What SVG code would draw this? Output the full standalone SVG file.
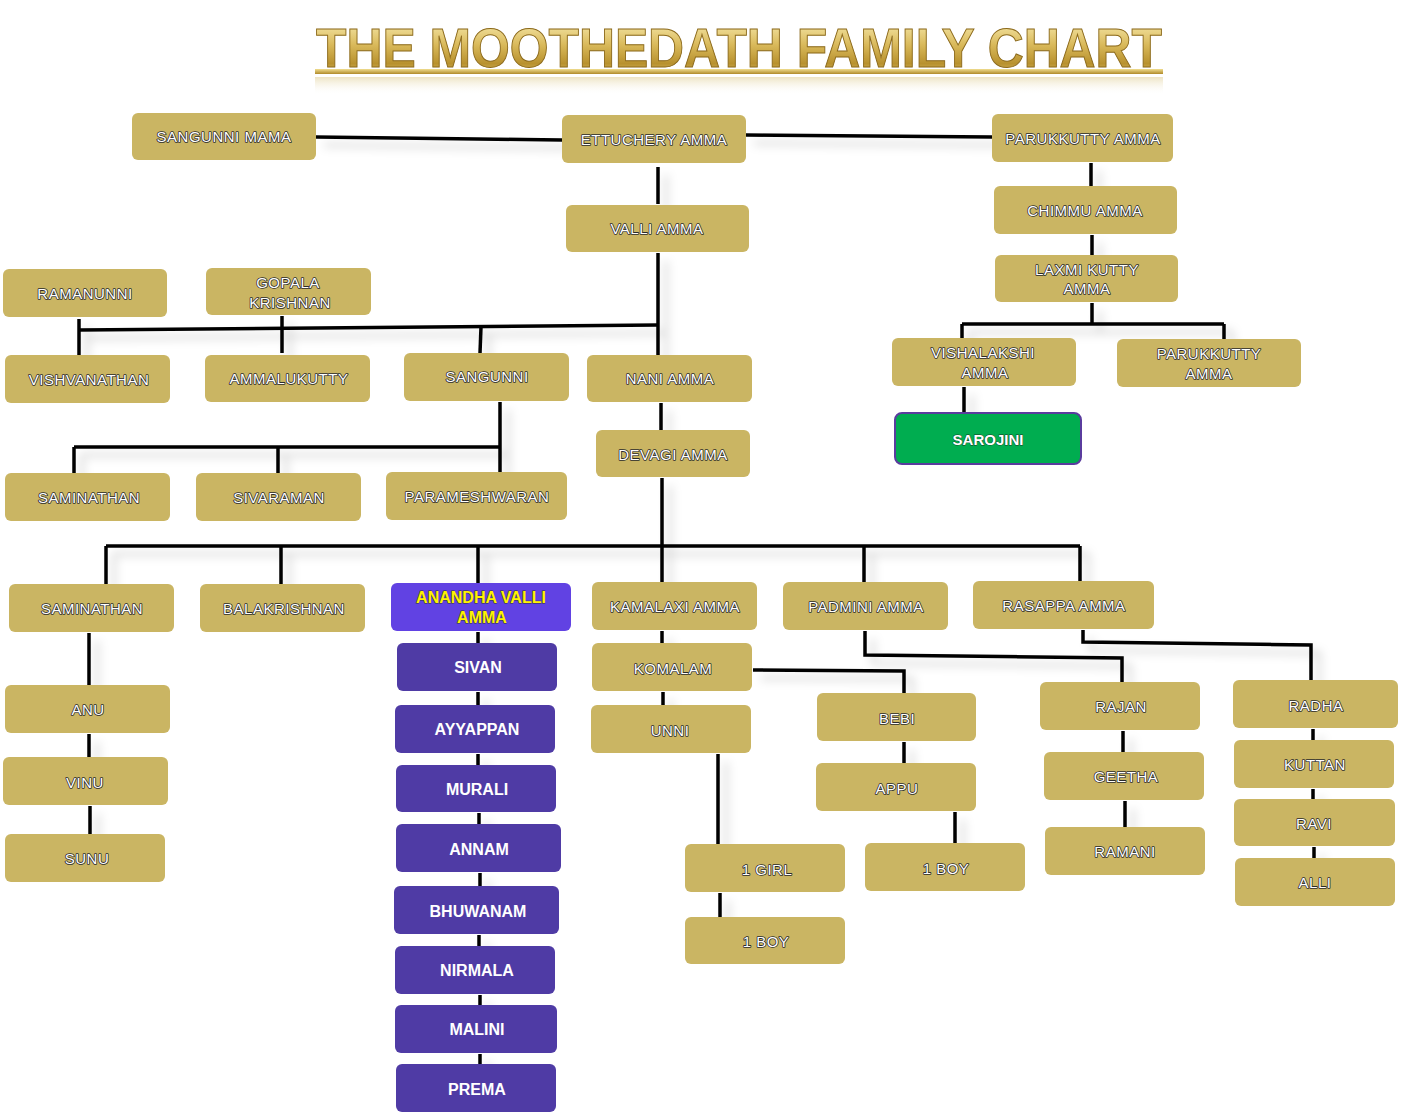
<svg xmlns="http://www.w3.org/2000/svg" width="1402" height="1119" viewBox="0 0 1402 1119">
<defs>
<linearGradient id="gold" x1="0" y1="0" x2="0" y2="1">
<stop offset="0" stop-color="#fbf0b8"/>
<stop offset="0.45" stop-color="#d9b95a"/>
<stop offset="0.75" stop-color="#b8912e"/>
<stop offset="1" stop-color="#e8cf7a"/>
</linearGradient>
<linearGradient id="bar" x1="0" y1="0" x2="0" y2="1">
<stop offset="0" stop-color="#f1de90"/>
<stop offset="1" stop-color="#b08a2a"/>
</linearGradient>
<linearGradient id="refl" x1="0" y1="0" x2="0" y2="1">
<stop offset="0" stop-color="#d8c27a" stop-opacity="0.45"/>
<stop offset="1" stop-color="#ffffff" stop-opacity="0"/>
</linearGradient>
<filter id="lshadow" x="-10%" y="-50%" width="130%" height="250%">
<feGaussianBlur in="SourceAlpha" stdDeviation="5"/>
<feOffset dx="8" dy="8" result="b"/>
<feFlood flood-color="#000" flood-opacity="0.18"/>
<feComposite in2="b" operator="in"/>
<feMerge><feMergeNode/><feMergeNode in="SourceGraphic"/></feMerge>
</filter>
</defs>
<style>
.g{fill:#cab563}
.p{fill:#4f3ba5}
.t{font-family:"Liberation Sans",Arial,sans-serif;font-size:15px;fill:#fff;text-anchor:middle;letter-spacing:0.5px;stroke:#2b2b2b;stroke-width:1.6px;paint-order:stroke;stroke-linejoin:round}
.tb{font-family:"Liberation Sans",Arial,sans-serif;font-size:16px;font-weight:bold;fill:#fff;text-anchor:middle}
.c{stroke:#000;stroke-width:3.5;fill:none;stroke-linecap:butt}
</style>
<rect width="1402" height="1119" fill="#fff"/>

<g id="title">
<rect x="315" y="77" width="848" height="18" fill="url(#refl)"/>
<rect x="315" y="69" width="848" height="5" fill="url(#bar)"/>
<text x="739" y="67" font-family="Liberation Sans, Arial, sans-serif" font-weight="bold" font-size="55" textLength="846" lengthAdjust="spacingAndGlyphs" text-anchor="middle" fill="url(#gold)" stroke="#8c6a1c" stroke-width="1">THE MOOTHEDATH FAMILY CHART</text>
</g>

<g id="connectors" filter="url(#lshadow)">
<path class="c" d="M316 137 L562 140"/>
<path class="c" d="M746 135 L992 137"/>
<path class="c" d="M658 167 V204"/>
<path class="c" d="M658 253 V355"/>
<path class="c" d="M79 330 L658 325"/>
<path class="c" d="M79 319 V355"/>
<path class="c" d="M282 316 V353"/>
<path class="c" d="M481 327 L480 353"/>
<path class="c" d="M661 403 V430"/>
<path class="c" d="M500 402 V472"/>
<path class="c" d="M74 447 H500"/>
<path class="c" d="M74 447 V473"/>
<path class="c" d="M278 447 V473"/>
<path class="c" d="M662 478 V583"/>
<path class="c" d="M106 546 H1080"/>
<path class="c" d="M106 546 V584"/>
<path class="c" d="M281 546 V584"/>
<path class="c" d="M478 546 V583"/>
<path class="c" d="M864 546 V582"/>
<path class="c" d="M1080 546 V581"/>
<path class="c" d="M1091 163 V186"/>
<path class="c" d="M1092 235 V255"/>
<path class="c" d="M1092 303 V324"/>
<path class="c" d="M962 324 H1224"/>
<path class="c" d="M962 324 V338"/>
<path class="c" d="M1224 324 V339"/>
<path class="c" d="M964 387 V412"/>
<path class="c" d="M89 633 V685"/>
<path class="c" d="M89 734 V757"/>
<path class="c" d="M90 806 V834"/>
<path class="c" d="M478 632 V643"/>
<path class="c" d="M478 692 V705"/>
<path class="c" d="M478 754 V765"/>
<path class="c" d="M479 813 V824"/>
<path class="c" d="M480 873 V886"/>
<path class="c" d="M479 935 V946"/>
<path class="c" d="M480 995 V1005"/>
<path class="c" d="M480 1054 V1064"/>
<path class="c" d="M662 631 V643"/>
<path class="c" d="M663 692 V705"/>
<path class="c" d="M753 670 L904 671 V693"/>
<path class="c" d="M904 742 V763"/>
<path class="c" d="M955 812 V843"/>
<path class="c" d="M718 754 V844"/>
<path class="c" d="M720 893 V917"/>
<path class="c" d="M865 631 V655 L1122 658 V682"/>
<path class="c" d="M1083 630 V642 L1311 645 V680"/>
<path class="c" d="M1123 731 V752"/>
<path class="c" d="M1125 801 V827"/>
<path class="c" d="M1313 729 V740"/>
<path class="c" d="M1313 789 V799"/>
<path class="c" d="M1314 847 V858"/>
</g>

<g id="n-sangunni-mama"><rect class="g" x="132" y="113" width="184" height="47" rx="6"/><text class="t" x="224" y="142">SANGUNNI MAMA</text></g>
<g id="n-ettuchery-amma"><rect class="g" x="562" y="115" width="184" height="48" rx="6"/><text class="t" x="654" y="145">ETTUCHERY AMMA</text></g>
<g id="n-parukkutty-amma-1"><rect class="g" x="992" y="114" width="181" height="48" rx="6"/><text class="t" x="1083" y="144">PARUKKUTTY AMMA</text></g>
<g id="n-valli-amma"><rect class="g" x="566" y="205" width="183" height="47" rx="6"/><text class="t" x="657" y="234">VALLI AMMA</text></g>
<g id="n-chimmu-amma"><rect class="g" x="994" y="186" width="183" height="48" rx="6"/><text class="t" x="1085" y="216">CHIMMU AMMA</text></g>
<g id="n-laxmi-kutty-amma"><rect class="g" x="995" y="255" width="183" height="47" rx="6"/><text class="t" x="1087" y="275">LAXMI KUTTY</text><text class="t" x="1087" y="294">AMMA</text></g>
<g id="n-ramanunni"><rect class="g" x="3" y="269" width="164" height="48" rx="6"/><text class="t" x="85" y="299">RAMANUNNI</text></g>
<g id="n-gopala-krishnan"><rect class="g" x="206" y="268" width="165" height="47" rx="6"/><text class="t" x="288" y="288">GOPALA</text><text class="t" x="290" y="308">KRISHNAN</text></g>
<g id="n-vishvanathan"><rect class="g" x="5" y="355" width="165" height="48" rx="6"/><text class="t" x="89" y="385">VISHVANATHAN</text></g>
<g id="n-ammalukutty"><rect class="g" x="205" y="355" width="165" height="47" rx="6"/><text class="t" x="289" y="384">AMMALUKUTTY</text></g>
<g id="n-sangunni"><rect class="g" x="404" y="353" width="165" height="48" rx="6"/><text class="t" x="487" y="382">SANGUNNI</text></g>
<g id="n-nani-amma"><rect class="g" x="587" y="355" width="165" height="47" rx="6"/><text class="t" x="670" y="384">NANI AMMA</text></g>
<g id="n-vishalakshi-amma"><rect class="g" x="892" y="338" width="184" height="48" rx="6"/><text class="t" x="983" y="358">VISHALAKSHI</text><text class="t" x="985" y="378">AMMA</text></g>
<g id="n-parukkutty-amma-2"><rect class="g" x="1117" y="339" width="184" height="48" rx="6"/><text class="t" x="1209" y="359">PARUKKUTTY</text><text class="t" x="1209" y="379">AMMA</text></g>
<g id="n-sarojini"><rect x="895" y="413" width="186" height="51" rx="7" fill="#00ad50" stroke="#5a3c9e" stroke-width="2"/><text class="tb" x="988" y="445" style="font-size:15px;stroke:#1a3a22;stroke-width:0.8px;paint-order:stroke">SAROJINI</text></g>
<g id="n-devagi-amma"><rect class="g" x="596" y="430" width="154" height="47" rx="6"/><text class="t" x="673" y="460">DEVAGI AMMA</text></g>
<g id="n-saminathan-1"><rect class="g" x="5" y="473" width="165" height="48" rx="6"/><text class="t" x="89" y="503">SAMINATHAN</text></g>
<g id="n-sivaraman"><rect class="g" x="196" y="473" width="165" height="48" rx="6"/><text class="t" x="279" y="503">SIVARAMAN</text></g>
<g id="n-parameshwaran"><rect class="g" x="386" y="472" width="181" height="48" rx="6"/><text class="t" x="477" y="502">PARAMESHWARAN</text></g>
<g id="n-saminathan-2"><rect class="g" x="9" y="584" width="165" height="48" rx="6"/><text class="t" x="92" y="614">SAMINATHAN</text></g>
<g id="n-balakrishnan"><rect class="g" x="200" y="584" width="165" height="48" rx="6"/><text class="t" x="284" y="614">BALAKRISHNAN</text></g>
<g id="n-anandha-valli-amma"><rect x="391" y="583" width="180" height="48" rx="6" fill="#6142e3"/><text class="tb" x="481" y="603" style="fill:#fff200;stroke:#333;stroke-width:0.8px;paint-order:stroke">ANANDHA VALLI</text><text class="tb" x="482" y="623" style="fill:#fff200;stroke:#333;stroke-width:0.8px;paint-order:stroke">AMMA</text></g>
<g id="n-kamalaxi-amma"><rect class="g" x="592" y="582" width="165" height="48" rx="6"/><text class="t" x="675" y="612">KAMALAXI AMMA</text></g>
<g id="n-padmini-amma"><rect class="g" x="783" y="582" width="165" height="48" rx="6"/><text class="t" x="866" y="612">PADMINI AMMA</text></g>
<g id="n-rasappa-amma"><rect class="g" x="973" y="581" width="181" height="48" rx="6"/><text class="t" x="1064" y="611">RASAPPA AMMA</text></g>
<g id="n-sivan"><rect class="p" x="397" y="643" width="160" height="48" rx="6"/><text class="tb" x="478" y="673">SIVAN</text></g>
<g id="n-ayyappan"><rect class="p" x="395" y="705" width="160" height="48" rx="6"/><text class="tb" x="477" y="735">AYYAPPAN</text></g>
<g id="n-murali"><rect class="p" x="396" y="765" width="160" height="47" rx="6"/><text class="tb" x="477" y="795">MURALI</text></g>
<g id="n-annam"><rect class="p" x="396" y="824" width="165" height="48" rx="6"/><text class="tb" x="479" y="855">ANNAM</text></g>
<g id="n-bhuwanam"><rect class="p" x="394" y="886" width="165" height="48" rx="6"/><text class="tb" x="478" y="917">BHUWANAM</text></g>
<g id="n-nirmala"><rect class="p" x="395" y="946" width="160" height="48" rx="6"/><text class="tb" x="477" y="976">NIRMALA</text></g>
<g id="n-malini"><rect class="p" x="395" y="1005" width="162" height="48" rx="6"/><text class="tb" x="477" y="1035">MALINI</text></g>
<g id="n-prema"><rect class="p" x="396" y="1064" width="160" height="48" rx="6"/><text class="tb" x="477" y="1095">PREMA</text></g>
<g id="n-komalam"><rect class="g" x="592" y="643" width="160" height="48" rx="6"/><text class="t" x="673" y="674">KOMALAM</text></g>
<g id="n-unni"><rect class="g" x="591" y="705" width="160" height="48" rx="6"/><text class="t" x="670" y="736">UNNI</text></g>
<g id="n-anu"><rect class="g" x="5" y="685" width="165" height="48" rx="6"/><text class="t" x="88" y="715">ANU</text></g>
<g id="n-vinu"><rect class="g" x="3" y="757" width="165" height="48" rx="6"/><text class="t" x="85" y="788">VINU</text></g>
<g id="n-sunu"><rect class="g" x="5" y="834" width="160" height="48" rx="6"/><text class="t" x="87" y="864">SUNU</text></g>
<g id="n-bebi"><rect class="g" x="817" y="693" width="159" height="48" rx="6"/><text class="t" x="897" y="724">BEBI</text></g>
<g id="n-appu"><rect class="g" x="816" y="763" width="160" height="48" rx="6"/><text class="t" x="897" y="794">APPU</text></g>
<g id="n-1-girl"><rect class="g" x="685" y="844" width="160" height="48" rx="6"/><text class="t" x="767" y="875">1 GIRL</text></g>
<g id="n-1-boy-1"><rect class="g" x="685" y="917" width="160" height="47" rx="6"/><text class="t" x="766" y="947">1 BOY</text></g>
<g id="n-1-boy-2"><rect class="g" x="865" y="843" width="160" height="48" rx="6"/><text class="t" x="946" y="874">1 BOY</text></g>
<g id="n-rajan"><rect class="g" x="1040" y="682" width="160" height="48" rx="6"/><text class="t" x="1121" y="712">RAJAN</text></g>
<g id="n-geetha"><rect class="g" x="1044" y="752" width="160" height="48" rx="6"/><text class="t" x="1126" y="782">GEETHA</text></g>
<g id="n-ramani"><rect class="g" x="1045" y="827" width="160" height="48" rx="6"/><text class="t" x="1125" y="857">RAMANI</text></g>
<g id="n-radha"><rect class="g" x="1233" y="680" width="165" height="48" rx="6"/><text class="t" x="1316" y="711">RADHA</text></g>
<g id="n-kuttan"><rect class="g" x="1234" y="740" width="160" height="48" rx="6"/><text class="t" x="1315" y="770">KUTTAN</text></g>
<g id="n-ravi"><rect class="g" x="1234" y="799" width="161" height="47" rx="6"/><text class="t" x="1314" y="829">RAVI</text></g>
<g id="n-alli"><rect class="g" x="1235" y="858" width="160" height="48" rx="6"/><text class="t" x="1315" y="888">ALLI</text></g>
</svg>
